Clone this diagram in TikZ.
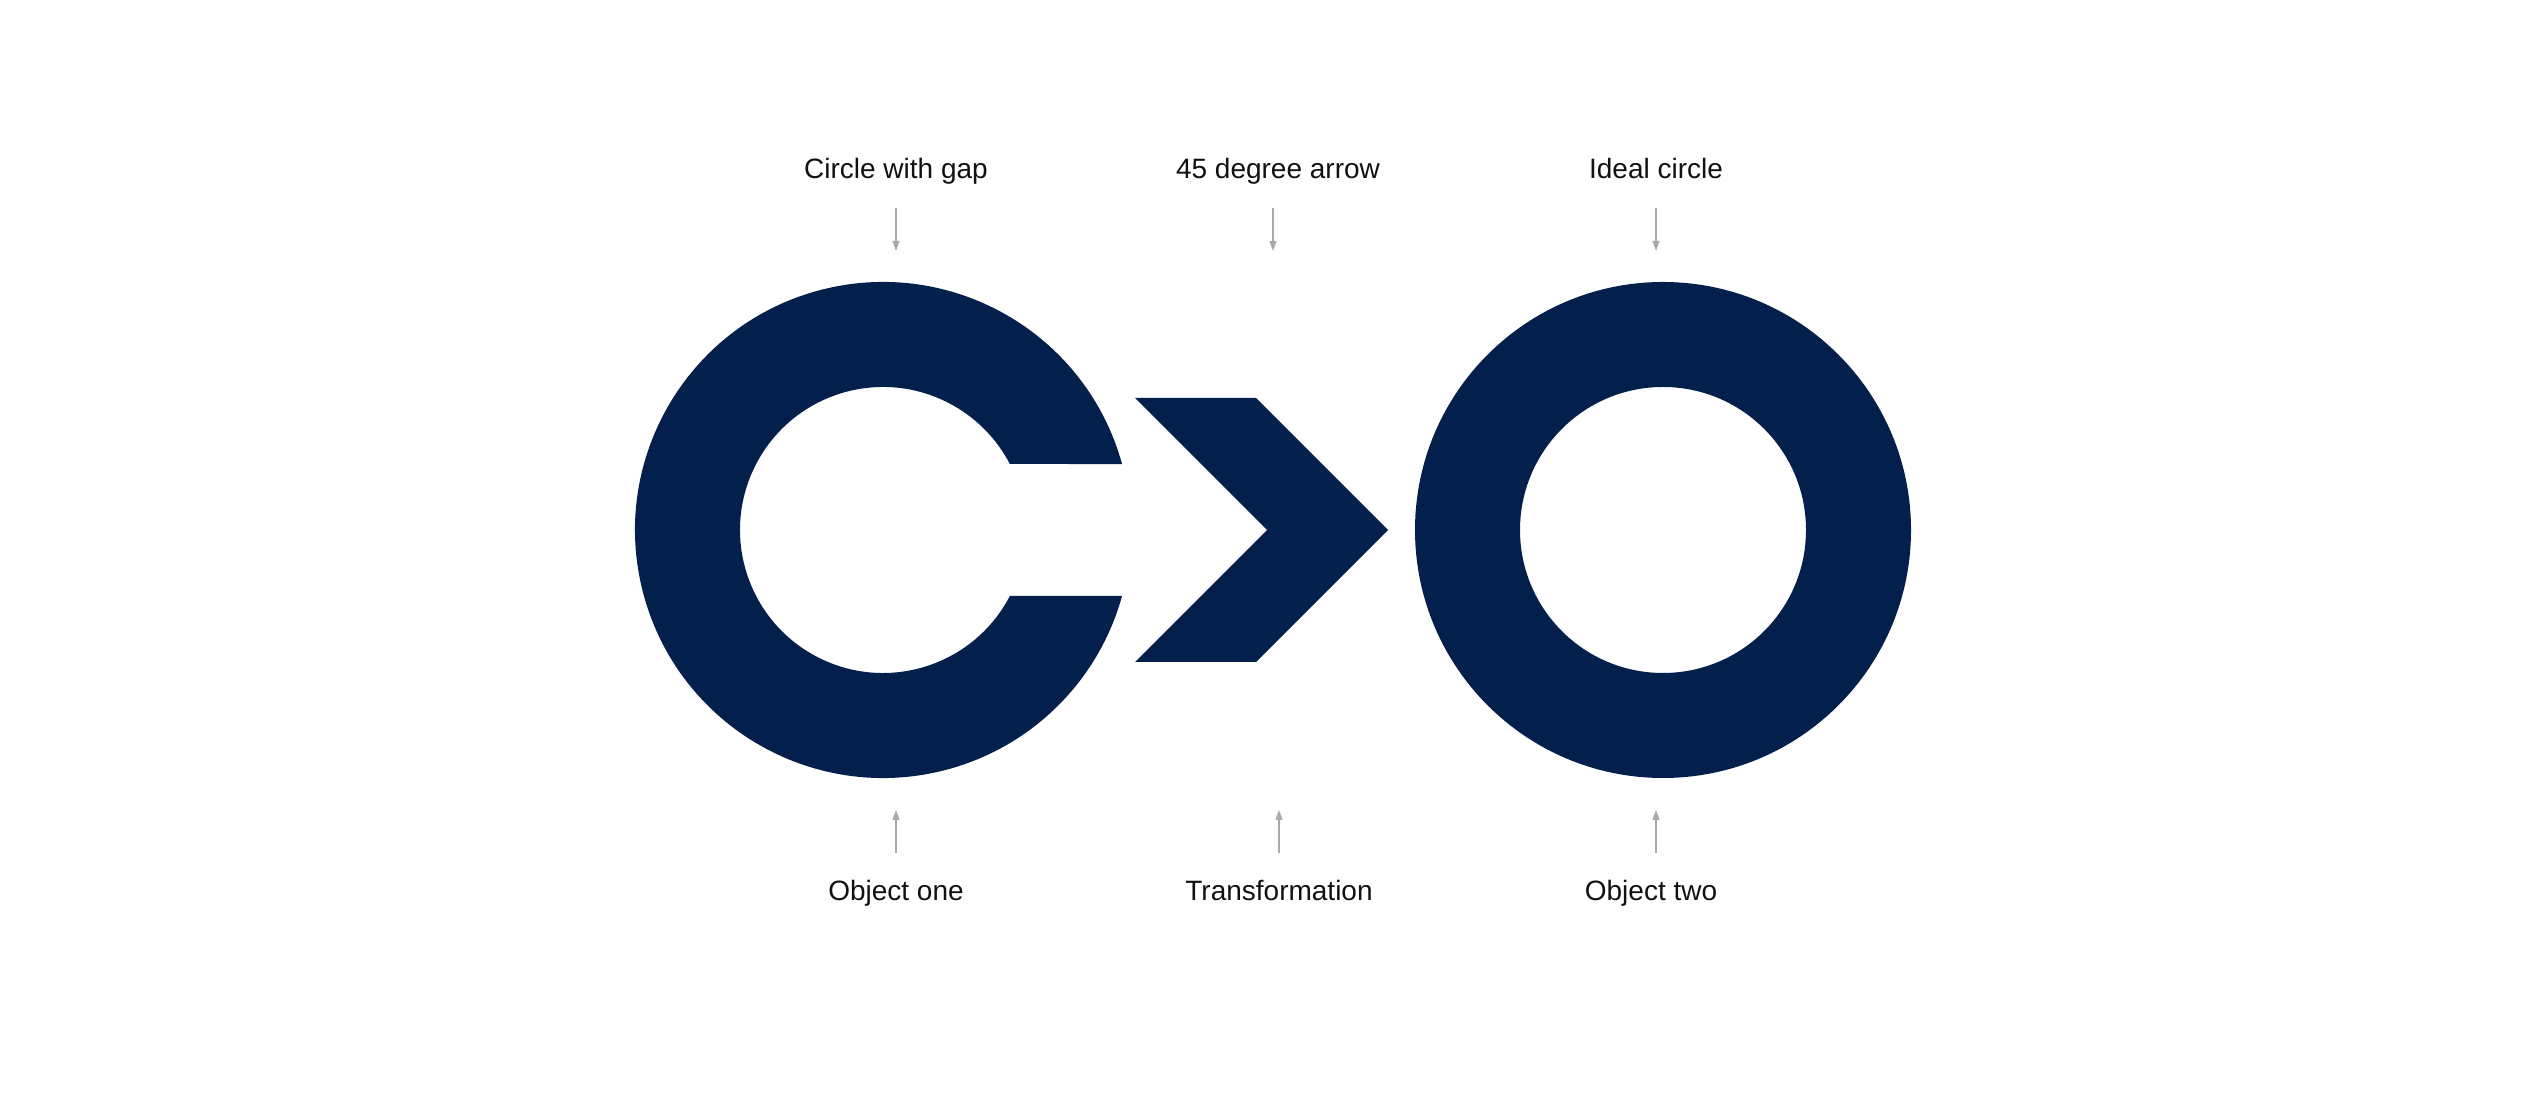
\documentclass[tikz,border=0pt]{standalone}
\usepackage{fontspec}
\setmainfont{Liberation Sans}
\usetikzlibrary{arrows.meta}
\definecolor{navy}{RGB}{3,32,76}
\definecolor{pointergray}{RGB}{170,170,170}
\definecolor{labelink}{RGB}{17,17,17}
\tikzset{
  shapefill/.style={fill=navy, draw=none},
  label/.style={anchor=base, inner sep=0pt, text=labelink, font=\fontsize{28}{34}\selectfont},
  pointer/.style={draw=pointergray, line width=1.3pt, -{Triangle[length=10pt,width=7pt]}}
}
\begin{document}
\begin{tikzpicture}[x=1pt,y=1pt]
\useasboundingbox (0,0) rectangle (2540,1110);
% centres
\coordinate (c1) at (883,580);
\coordinate (c2) at (1663,580);
% circle with gap
\fill[shapefill] ([shift={(15.43:248)}]c1) arc[start angle=15.43,end angle=344.57,radius=248]
  -- ([shift={(-27.49:143)}]c1) arc[start angle=-27.49,end angle=-332.51,radius=143] -- cycle;
% 45 degree arrow (chevron)
\fill[shapefill] (1135,712) -- (1256,712) -- (1388,580) -- (1256,448) -- (1135,448) -- (1267,580) -- cycle;
% ideal circle
\fill[shapefill, even odd rule] (c2) circle[radius=248] (c2) circle[radius=143];
% top labels
\node[label] (lt1) at (896,931) {Circle with gap};
\node[label] (lt2) at (1278,931) {45 degree arrow};
\node[label] (lt3) at (1656,931) {Ideal circle};
% bottom labels
\node[label] (lb1) at (896,209) {Object one};
\node[label] (lb2) at (1279,209) {Transformation};
\node[label] (lb3) at (1651,209) {Object two};
% pointer ends
\coordinate (pt1s) at (896,902);  \coordinate (pt1e) at (896,859);
\coordinate (pt2s) at (1273,902); \coordinate (pt2e) at (1273,859);
\coordinate (pt3s) at (1656,902); \coordinate (pt3e) at (1656,859);
\coordinate (pb1s) at (896,257);  \coordinate (pb1e) at (896,300);
\coordinate (pb2s) at (1279,257); \coordinate (pb2e) at (1279,300);
\coordinate (pb3s) at (1656,257); \coordinate (pb3e) at (1656,300);
\draw[pointer] (pt1s) -- (pt1e);
\draw[pointer] (pt2s) -- (pt2e);
\draw[pointer] (pt3s) -- (pt3e);
\draw[pointer] (pb1s) -- (pb1e);
\draw[pointer] (pb2s) -- (pb2e);
\draw[pointer] (pb3s) -- (pb3e);
\end{tikzpicture}
\end{document}
